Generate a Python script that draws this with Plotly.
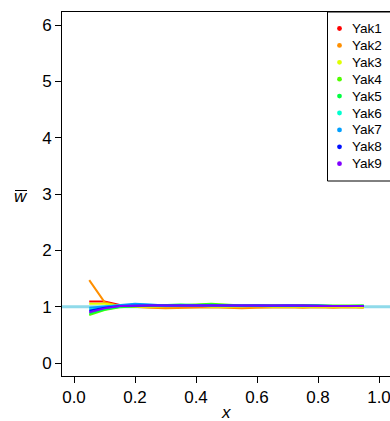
import plotly.graph_objects as go

# sampled positions along x
x_vals = [0.05, 0.10, 0.15, 0.20, 0.25, 0.30, 0.35, 0.40, 0.45, 0.50,
          0.55, 0.60, 0.65, 0.70, 0.75, 0.80, 0.85, 0.90, 0.95]

names = ["Yak1", "Yak2", "Yak3", "Yak4", "Yak5", "Yak6", "Yak7", "Yak8", "Yak9"]
colors = ["#FF0000", "#FF8F00", "#DFFF00", "#50FF00", "#00FF40",
          "#00FFCF", "#009FFF", "#0010FF", "#8000FF"]

yak1 = [1.09, 1.09, 1.03, 1.01, 1.00, 1.00, 1.01, 1.01, 1.02, 1.01, 1.01, 1.01, 1.00, 1.00, 1.00, 1.01, 1.00, 1.00, 1.00]
yak2 = [1.47, 1.08, 1.01, 0.99, 0.98, 0.97, 0.98, 0.98, 0.99, 0.98, 0.97, 0.98, 0.99, 0.99, 0.98, 0.99, 0.98, 0.99, 0.98]
yak3 = [1.05, 1.05, 1.02, 1.00, 1.00, 1.00, 1.01, 1.02, 1.00, 1.00, 1.01, 1.01, 1.00, 1.00, 1.01, 1.00, 1.00, 1.00, 0.99]
yak4 = [0.85, 0.94, 0.99, 1.01, 1.02, 1.01, 1.03, 1.04, 1.05, 1.03, 1.02, 1.02, 1.02, 1.01, 1.01, 1.02, 1.02, 1.01, 1.02]
yak5 = [0.88, 0.95, 1.00, 1.01, 1.02, 1.02, 1.04, 1.03, 1.04, 1.02, 1.01, 1.02, 1.01, 1.01, 1.02, 1.01, 1.01, 1.01, 1.02]
yak6 = [0.95, 0.98, 1.01, 1.04, 1.03, 1.01, 1.02, 1.03, 1.03, 1.02, 1.02, 1.01, 1.02, 1.01, 1.01, 1.01, 1.01, 1.01, 1.01]
yak7 = [0.98, 1.00, 1.03, 1.05, 1.04, 1.02, 1.02, 1.02, 1.03, 1.03, 1.02, 1.02, 1.01, 1.02, 1.01, 1.01, 1.01, 1.01, 1.01]
yak8 = [0.93, 0.98, 1.01, 1.02, 1.02, 1.02, 1.02, 1.02, 1.02, 1.03, 1.02, 1.02, 1.02, 1.02, 1.02, 1.02, 1.01, 1.01, 1.01]
yak9 = [0.90, 0.97, 1.01, 1.02, 1.02, 1.02, 1.02, 1.02, 1.02, 1.02, 1.03, 1.02, 1.02, 1.02, 1.02, 1.01, 1.01, 1.01, 1.01]
series = [yak1, yak2, yak3, yak4, yak5, yak6, yak7, yak8, yak9]

x_ticks = [0.0, 0.2, 0.4, 0.6, 0.8, 1.0]
x_tick_text = ["0.0", "0.2", "0.4", "0.6", "0.8", "1.0"]
y_ticks = [0, 1, 2, 3, 4, 5, 6]
reference_level = 1.0

FONT = "Liberation Sans, Arial, sans-serif"
W, H = 390, 421
ML, MR, MT, MB = 62, 0, 12, 45
PW, PH = W - ML - MR, H - MT - MB


def px_x(p):
    return (p - ML) / PW


def px_y(p):
    return (H - MB - p) / PH


fig = go.Figure()

# horizontal reference line across the whole panel
fig.add_trace(go.Scatter(
    x=[-0.1, 1.1], y=[reference_level, reference_level], mode="lines",
    line=dict(color="#8FDAEA", width=3), showlegend=False, hoverinfo="skip"))

for name, col, ys in zip(names, colors, series):
    fig.add_trace(go.Scatter(
        x=x_vals, y=ys, mode="lines", name=name,
        line=dict(color=col, width=2), showlegend=False))

shapes = []
annotations = []

# legend box, key dots and labels
box_left, box_bottom = 327.5, 181
shapes.append(dict(type="rect", xref="paper", yref="paper",
                   x0=px_x(box_left), x1=1.05, y0=px_y(box_bottom), y1=1.0,
                   line=dict(color="black", width=1), fillcolor="rgba(0,0,0,0)"))
first_row, row_step = 28.5, 16.9
for i, (name, col) in enumerate(zip(names, colors)):
    yy = px_y(first_row + i * row_step)
    shapes.append(dict(type="circle", xref="paper", yref="paper",
                       xsizemode="pixel", ysizemode="pixel",
                       xanchor=px_x(339.5), yanchor=yy,
                       x0=-2.4, x1=2.4, y0=-2.4, y1=2.4,
                       fillcolor=col, line=dict(width=0)))
    annotations.append(dict(xref="paper", yref="paper", x=px_x(350), y=yy,
                            text=name, showarrow=False, xanchor="left",
                            yanchor="middle",
                            font=dict(family=FONT, size=13.5, color="black")))

# axis titles
annotations.append(dict(xref="paper", yref="paper", x=0.5, y=px_y(412),
                        text="<i>x</i>", showarrow=False, xanchor="center",
                        yanchor="middle", font=dict(family=FONT, size=17, color="black")))
annotations.append(dict(xref="paper", yref="paper", x=px_x(21), y=px_y(196),
                        text="<i>w</i>", showarrow=False, xanchor="center",
                        yanchor="middle", font=dict(family=FONT, size=17, color="black")))
shapes.append(dict(type="line", xref="paper", yref="paper",
                   x0=px_x(15), x1=px_x(27), y0=px_y(190.5), y1=px_y(190.5),
                   line=dict(color="black", width=1)))

fig.update_layout(
    width=W, height=H,
    margin=dict(l=ML, r=MR, t=MT, b=MB, pad=0),
    paper_bgcolor="white", plot_bgcolor="white",
    font=dict(family=FONT, size=17, color="black"),
    showlegend=False,
    shapes=shapes, annotations=annotations,
    xaxis=dict(range=[-12 / 305, 1 + 11 / 305], tickvals=x_ticks, ticktext=x_tick_text,
               ticks="outside", ticklen=6, tickcolor="black", tickwidth=1,
               showline=True, linecolor="black", linewidth=1, mirror=True,
               showgrid=False, zeroline=False, ticklabeloverflow="allow",
               tickfont=dict(family=FONT, size=17, color="black")),
    yaxis=dict(range=[-13 / 56.33, 6 + 13 / 56.33], tickvals=y_ticks,
               ticks="outside", ticklen=6, tickcolor="black", tickwidth=1,
               showline=True, linecolor="black", linewidth=1, mirror=False,
               showgrid=False, zeroline=False,
               tickfont=dict(family=FONT, size=17, color="black")),
)

fig.write_html("out.html")
